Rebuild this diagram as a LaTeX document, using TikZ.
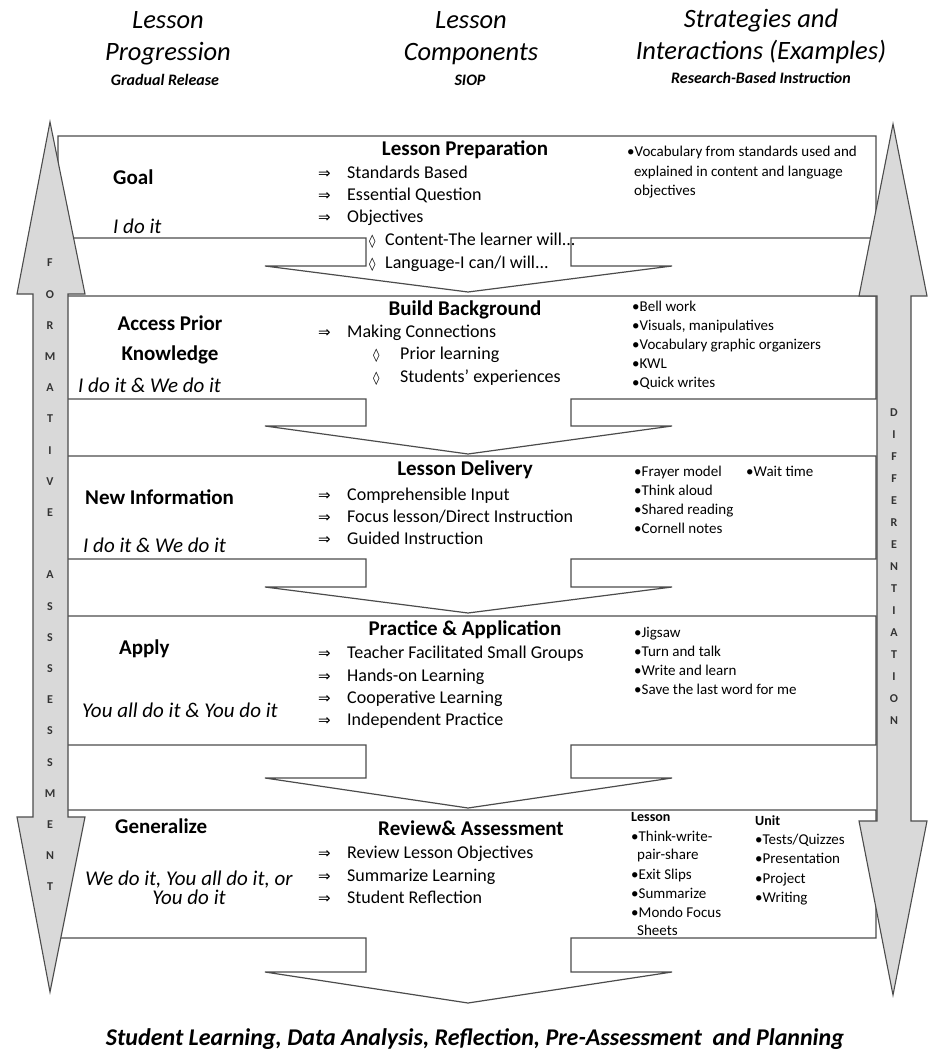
\documentclass[tikz,border=0pt]{standalone}
\usepackage{fontspec}
\setmainfont{Carlito}
\newfontfamily\symf{DejaVu Sans}
\newcommand{\arr}{\makebox[29pt][l]{\symf\fontsize{15}{15}\selectfont ⇒}}
\newcommand{\dia}[1]{\makebox[#1][l]{\symf\fontsize{13}{13}\selectfont ◊}}

\begin{document}
\begin{tikzpicture}[x=1pt, y=-1pt,
    box/.style={draw=black!70, line width=1.2pt, fill=white},
    side/.style={draw=black!70, line width=1.1pt, fill=black!15},
    letter/.style={font=\fontsize{12}{12}\selectfont\bfseries, text=black!80, inner sep=0pt},
    colhead/.style={font=\fontsize{26.5}{32}\selectfont\itshape, align=center, inner sep=0pt},
    colsub/.style={font=\fontsize{16}{19}\selectfont\bfseries\itshape, inner sep=0pt},
    stage/.style={font=\fontsize{21}{30}\selectfont\bfseries, align=center, inner sep=0pt},
    mode/.style={font=\fontsize{21}{19}\selectfont\itshape, align=center, inner sep=0pt},
    single/.style={anchor=west, text height=15pt, text depth=4pt},
    comp/.style={font=\fontsize{21}{25}\selectfont\bfseries, inner sep=0pt, text height=15pt, text depth=4pt},
    item/.style={font=\fontsize{18}{22}\selectfont, anchor=west, inner sep=0pt, text height=13pt, text depth=4pt},
    ex/.style={font=\fontsize{15}{19}\selectfont, anchor=west, inner sep=0pt, text height=11pt, text depth=3pt},
    exhead/.style={ex, font=\fontsize{14}{17}\selectfont\bfseries}
]
    \useasboundingbox (0,0) rectangle (928,1051);

    % Column headings
    \node[colhead] (hprog) at (168,38) {Lesson\\Progression};
    \node[colsub] (sprog) at (165,80) {Gradual Release};
    \node[colhead] (hcomp) at (471,38) {Lesson\\Components};
    \node[colsub] (scomp) at (470,80) {SIOP};
    \node[colhead] (hstrat) at (761,36) {Strategies and\\Interactions (Examples)};
    \node[colsub] (sstrat) at (761,78) {Research-Based Instruction};

    % Lesson stages (down arrow callouts)
    \foreach \t/\b/\h/\p in {136/238/266/292, 296/399/426/454, 456/559/587/613, 616/745/778/808, 810/938/972/1003}
        \draw[box] (58,\t) -- (876,\t) -- (876,\b) -- (571,\b) -- (571,\h) -- (672,\h) -- (468,\p)
            -- (265,\h) -- (366,\h) -- (366,\b) -- (58,\b) -- cycle;

    % Side arrows
    \draw[side] (50,122) -- (85,294) -- (68,294) -- (68,817) -- (85,817) -- (50,992)
        -- (17,817) -- (33,817) -- (33,294) -- (17,294) -- cycle;
    \draw[side] (893,124) -- (927,296) -- (911,296) -- (911,821) -- (927,821) -- (893,995)
        -- (859,821) -- (877,821) -- (877,296) -- (859,296) -- cycle;
    \foreach \c [count=\i from 0] in {F,O,R,M,A,T,I,V,E}
        \node[letter] (form\i) at (50,263+31.2*\i) {\c};
    \foreach \c [count=\i from 0] in {A,S,S,S,E,S,S,M,E,N,T}
        \node[letter] (asse\i) at (50,575+31.2*\i) {\c};
    \foreach \c [count=\i from 0] in {D,I,F,F,E,R,E,N,T,I,A,T,I,O,N}
        \node[letter] (diff\i) at (894,413+22*\i) {\c};

    % Lesson progression
    \node[stage, single] (goal) at (113,179) {Goal};
    \node[mode, single] (ido) at (113,228) {I do it};
    \node[stage] (prior) at (170,340) {Access Prior\\Knowledge};
    \node[mode, single] (wedo1) at (78,387) {I do it \& We do it};
    \node[stage, single] (newinfo) at (85,499) {New Information};
    \node[mode, single] (wedo2) at (83,547) {I do it \& We do it};
    \node[stage, single] (apply) at (119,649) {Apply};
    \node[mode, single] (youdo) at (82,712) {You all do it \& You do it};
    \node[stage, single] (general) at (115,828) {Generalize};
    \node[mode] (alldo) at (189,888) {We do it, You all do it, or\\You do it};

    % Lesson components
    \node[comp] (prep) at (465,150) {Lesson Preparation};
    \foreach \y/\t [count=\i] in {174/Standards Based, 196/Essential Question, 218/Objectives}
        \node[item] (prep\i) at (318,\y) {\arr\t};
    \node[item] (obj1) at (369,241) {\dia{16pt}Content-The learner will...};
    \node[item] (obj2) at (369,264) {\dia{16pt}Language-I can/I will...};

    \node[comp] (build) at (465,310) {Build Background};
    \node[item] (build1) at (318,333) {\arr Making Connections};
    \node[item] (conn1) at (373,355) {\dia{27pt}Prior learning};
    \node[item] (conn2) at (373,378) {\dia{27pt}Students’ experiences};

    \node[comp] (deliv) at (465,470) {Lesson Delivery};
    \foreach \y/\t [count=\i] in {496/Comprehensible Input, 518/{Focus lesson/Direct Instruction}, 540/Guided Instruction}
        \node[item] (deliv\i) at (318,\y) {\arr\t};

    \node[comp] (pract) at (465,630) {Practice \& Application};
    \foreach \y/\t [count=\i] in {654/Teacher Facilitated Small Groups, 677/Hands-on Learning, 699/Cooperative Learning, 721/Independent Practice}
        \node[item] (pract\i) at (318,\y) {\arr\t};

    \node[comp] (review) at (471,830) {Review\& Assessment};
    \foreach \y/\t [count=\i] in {854/Review Lesson Objectives, 877/Summarize Learning, 899/Student Reflection}
        \node[item] (review\i) at (318,\y) {\arr\t};

    % Strategies and interactions
    \node[ex] (voc1) at (627,153) {•Vocabulary from standards used and};
    \node[ex] (voc2) at (634,172) {explained in content and language};
    \node[ex] (voc3) at (634,191) {objectives};

    \foreach \y/\t [count=\i] in {307/Bell work, 326/{Visuals, manipulatives}, 345/Vocabulary graphic organizers, 364/KWL, 383/Quick writes}
        \node[ex] (bg\i) at (632,\y) {•\t};

    \foreach \y/\t [count=\i] in {472/Frayer model, 491/Think aloud, 510/Shared reading, 529/Cornell notes}
        \node[ex] (dl\i) at (634,\y) {•\t};
    \node[ex] (wait) at (746,472) {•Wait time};

    \foreach \y/\t [count=\i] in {633/Jigsaw, 652/Turn and talk, 671/Write and learn, 690/Save the last word for me}
        \node[ex] (pa\i) at (634,\y) {•\t};

    \node[exhead] (lsn) at (631,817) {Lesson};
    \node[ex] (lsn1) at (631,837) {•Think-write-};
    \node[ex] (lsn1b) at (637,855) {pair-share};
    \node[ex] (lsn2) at (631,875) {•Exit Slips};
    \node[ex] (lsn3) at (631,894) {•Summarize};
    \node[ex] (lsn4) at (631,913) {•Mondo Focus};
    \node[ex] (lsn4b) at (637,931) {Sheets};
    \node[exhead] (unit) at (755,821) {Unit};
    \foreach \y/\t [count=\i] in {840/{Tests/Quizzes}, 859/Presentation, 879/Project, 898/Writing}
        \node[ex] (unit\i) at (755,\y) {•\t};

    % Next cycle
    \node[font=\fontsize{24}{28}\selectfont\bfseries\itshape, inner sep=0pt] (plan) at (475,1039)
        {Student Learning, Data Analysis, Reflection, Pre-Assessment\ \ and Planning};
\end{tikzpicture}
\end{document}
